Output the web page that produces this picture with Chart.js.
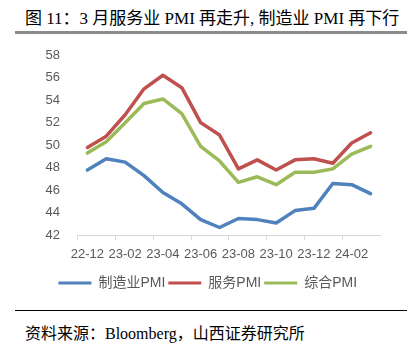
<!DOCTYPE html>
<html><head><meta charset="utf-8">
<script src="https://cdn.jsdelivr.net/npm/chart.js@4/dist/chart.umd.min.js"></script>
<style>
html,body{margin:0;padding:0;background:#fff;}
#wrap{position:relative;width:412px;height:356px;overflow:hidden;}
#title{position:absolute;left:25px;top:4px;font:400 17px "Liberation Serif","Noto Sans CJK SC";color:#000;white-space:nowrap;}
#tline{position:absolute;left:15px;top:31px;width:392px;height:3px;background:#8c8c8c;}
#bline{position:absolute;left:15px;top:310px;width:392px;height:1px;background:#000;}
#src{position:absolute;left:25px;top:320px;font:16px "Liberation Serif","Noto Sans CJK SC";color:#000;white-space:nowrap;}
#cv{position:absolute;left:0;top:36px;}
</style></head>
<body><div id="wrap">
<div id="title">图 11：3 月服务业 PMI 再走升, 制造业 PMI 再下行</div>
<div id="tline"></div>
<canvas id="cv" width="412" height="274"></canvas>
<div id="bline"></div>
<div id="src">资料来源：Bloomberg，山西证券研究所</div>
</div>
<script>
const categories = ["22-12","23-01","23-02","23-03","23-04","23-05","23-06","23-07","23-08","23-09","23-10","23-11","23-12","24-01","24-02","24-03"];
const manufacturing = [47.8,48.8,48.5,47.3,45.8,44.8,43.4,42.7,43.5,43.4,43.1,44.2,44.4,46.6,46.5,45.7];
const services = [49.8,50.8,52.7,55.0,56.2,55.1,52.0,50.9,47.9,48.7,47.8,48.7,48.8,48.4,50.2,51.1];
const composite = [49.3,50.3,52.0,53.7,54.1,52.8,49.9,48.6,46.7,47.2,46.5,47.6,47.6,47.9,49.2,49.9];
const seriesNames = ["制造业PMI","服务PMI","综合PMI"];
const yTicks = {min:42, max:58, step:2};

const colors = ["#4f81bd","#c0504d","#9bbb59"];
const mk = (label, data, c) => ({label, data, borderColor:c, backgroundColor:c, borderWidth:3.5,
  pointRadius:0, tension:0, borderJoinStyle:'round', borderCapStyle:'round', fill:false});
const tickFont = {family:"'Liberation Sans'", size:13};
new Chart(document.getElementById('cv'), {
  type:'line',
  data:{labels:categories, datasets:[
    mk(seriesNames[0], manufacturing, colors[0]),
    mk(seriesNames[1], services, colors[1]),
    mk(seriesNames[2], composite, colors[2])
  ]},
  options:{
    responsive:false, animation:false, devicePixelRatio:1,
    layout:{padding:{left:35.5, right:32, top:19, bottom:10}},
    plugins:{
      tooltip:{enabled:false},
      legend:{position:'bottom', labels:{
        boxWidth:33, boxHeight:3, padding:3, color:'#595959',
        font:{family:"'Liberation Sans','Noto Sans CJK SC'", size:14},
        generateLabels:(chart)=>Chart.defaults.plugins.legend.labels.generateLabels(chart).map(l=>Object.assign(l,{lineWidth:0}))
      }}
    },
    scales:{
      x:{
        offset:true,
        grid:{display:true, drawOnChartArea:false, drawTicks:true, tickLength:5, offset:true,
          color:(ctx)=> (ctx.index % 2 === 0 ? '#d9d9d9' : 'rgba(0,0,0,0)')},
        border:{display:true, color:'#d9d9d9', width:1},
        ticks:{autoSkip:false, maxRotation:0, padding:6, color:'#595959', font:tickFont,
          callback:function(v,i){return i%2===0 ? this.getLabelForValue(v) : '';}},
        afterFit:(s)=>{s.height += 5;}
      },
      y:{
        min:yTicks.min, max:yTicks.max,
        grid:{display:false}, border:{display:false},
        ticks:{stepSize:yTicks.step, padding:10, color:'#595959', font:tickFont}
      }
    }
  }
});
</script>
</body></html>
